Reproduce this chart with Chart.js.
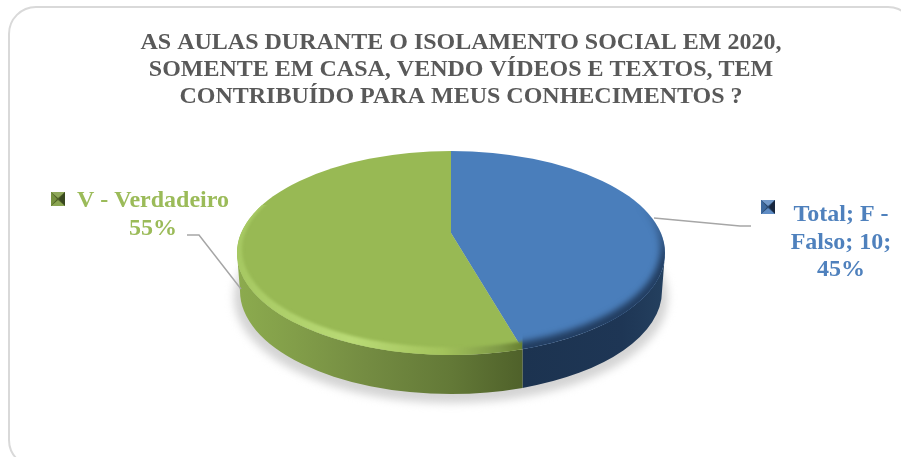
<!DOCTYPE html>
<html lang="pt">
<head>
<meta charset="utf-8">
<title>Aulas durante o isolamento social</title>
<script src="https://cdn.jsdelivr.net/npm/chart.js@4/dist/chart.umd.min.js"></script>
<style>
    html, body { margin: 0; padding: 0; background: #fff; overflow: hidden; width: 901px; height: 457px; }
    #frame {
        position: absolute; left: 8px; top: 6px; width: 904px; height: 458px;
        border: 2px solid #d9d9d9; border-radius: 28px; box-sizing: content-box;
    }
    #chartBox { position: absolute; left: 0; top: 0; width: 901px; height: 457px; }
</style>
</head>
<body>
<div id="frame"></div>
<div id="chartBox"><canvas id="pieChart" width="901" height="457"></canvas></div>

<script>
    const titleLines = [
        'AS AULAS DURANTE O ISOLAMENTO SOCIAL EM 2020,',
        'SOMENTE EM CASA, VENDO VÍDEOS E TEXTOS, TEM',
        'CONTRIBUÍDO PARA MEUS CONHECIMENTOS ?',
    ];
    const categories = ['F - Falso', 'V - Verdadeiro'];
    const answers = [10, 12];
    const faceColors = ['#4a7ebb', '#98b954'];
    const labelColors = ['#4f81bd', '#9bbb59'];

    // ── Pie geometry ────────────────────────────────────────────
    const SERIF = '"Liberation Serif", "Times New Roman", serif';
    const rim   = { x: 451, y: 253, rx: 214, ry: 102 };
    const face  = { x: 451, y: 249.5, rx: 209, ry: 98 };
    const floor = { x: 451, y: 291, rx: 211, ry: 103 };
    const apex  = { x: 451, y: 233 };
    const squash = rim.ry / rim.rx;
    const PIE_RADIUS = 100;
    const PIE_ZOOM = 4;

    function percent(i) {
        const total = answers.reduce((a, b) => a + b, 0);
        return Math.round(answers[i] / total * 100);
    }

    function ellipsePath(ctx, e) {
        ctx.beginPath();
        ctx.ellipse(e.x, e.y, e.rx, e.ry, 0, 0, Math.PI * 2);
    }

    // where the slice edge leaving the apex meets the rim
    function rimHit(angle) {
        const dx = Math.cos(angle), dy = Math.sin(angle) * squash;
        const ox = (apex.x - rim.x) / rim.rx, oy = (apex.y - rim.y) / rim.ry;
        const px = dx / rim.rx, py = dy / rim.ry;
        const a = px * px + py * py;
        const b = 2 * (ox * px + oy * py);
        const c = ox * ox + oy * oy - 1;
        const t = (-b + Math.sqrt(b * b - 4 * a * c)) / (2 * a);
        return apex.x + t * dx;
    }

    function wallPath(ctx, fromX, toX) {
        const t = (e, x) => Math.acos((x - e.x) / e.rx);
        ctx.beginPath();
        ctx.ellipse(rim.x, rim.y, rim.rx, rim.ry, 0, t(rim, fromX), t(rim, toX), false);
        ctx.ellipse(floor.x, floor.y, floor.rx, floor.ry, 0, t(floor, Math.max(toX, floor.x - floor.rx)) , t(floor, Math.min(fromX, floor.x + floor.rx)), true);
        ctx.closePath();
    }

    function hGradient(ctx, x0, x1, stops) {
        const g = ctx.createLinearGradient(x0, 0, x1, 0);
        stops.forEach(s => g.addColorStop(s[0], s[1]));
        return g;
    }

    // ── Solid look: shadow, side wall and bevel around the library's arcs ──
    const solidPie = {
        id: 'solidPie',
        beforeDatasetsDraw(chart) {
            const ctx = chart.ctx;
            const arcs = chart.getDatasetMeta(0).data;
            const splitX = rimHit(arcs[0].endAngle);
            chart.$splitX = splitX;

            ctx.save();
            ctx.filter = 'blur(4px)';
            ctx.fillStyle = '#d4d4d4';
            ellipsePath(ctx, { x: 451, y: 297, rx: 217, ry: 106 });
            ctx.fill();
            ctx.restore();

            ctx.save();
            wallPath(ctx, rim.x + rim.rx, splitX);
            ctx.fillStyle = hGradient(ctx, splitX, rim.x + rim.rx, [[0, '#1c3350'], [0.7, '#1e3655'], [1, '#24405f']]);
            ctx.fill();
            wallPath(ctx, splitX, rim.x - rim.rx);
            ctx.fillStyle = hGradient(ctx, rim.x - rim.rx, splitX, [
                [0, '#8cab4e'], [0.2, '#829e49'], [0.45, '#748c42'], [0.75, '#637937'], [1, '#4f612a'],
            ]);
            ctx.fill();
            ctx.restore();

            // arcs are drawn squashed around the apex and trimmed to the rim
            ctx.save();
            ellipsePath(ctx, rim);
            ctx.clip();
            const el = arcs[0];
            const k = PIE_ZOOM;
            ctx.transform(k, 0, 0, k * squash, apex.x - k * el.x, apex.y - k * squash * el.y);
        },
        afterDatasetsDraw(chart) {
            const ctx = chart.ctx;
            const splitX = chart.$splitX;
            ctx.restore();

            const crescent = (left, right, fill, blur) => {
                ctx.save();
                ellipsePath(ctx, rim);
                ctx.clip();
                ctx.beginPath();
                ctx.rect(left, 205, right - left, 200);
                ctx.clip();
                ctx.filter = `blur(${blur}px)`;
                ctx.beginPath();
                ctx.ellipse(rim.x, rim.y, rim.rx + 6, rim.ry + 6, 0, 0, Math.PI * 2);
                ctx.ellipse(face.x, face.y, face.rx, face.ry, 0, 0, Math.PI * 2, true);
                ctx.fillStyle = fill;
                ctx.fill('evenodd');
                ctx.restore();
            };
            crescent(rim.x - rim.rx - 2, splitX, hGradient(ctx, rim.x - rim.rx, splitX, [
                [0, '#a6c862'], [0.4, '#b9da76'], [0.72, '#a3c35c'], [0.92, '#7f9a47'], [1, '#67802f'],
            ]), 1.5);

            const blueEdge = ctx.createLinearGradient(0, 205, 0, 262);
            blueEdge.addColorStop(0, 'rgba(34,61,96,0)');
            blueEdge.addColorStop(1, 'rgba(34,61,96,1)');
            crescent(splitX, rim.x + rim.rx + 2, blueEdge, 3);

            drawLeaders(ctx);
            drawLabels(ctx);
        },
    };

    function drawLeaders(ctx) {
        ctx.save();
        ctx.strokeStyle = '#a6a6a6';
        ctx.lineWidth = 1.5;
        ctx.beginPath();
        ctx.moveTo(187, 235); ctx.lineTo(199, 235); ctx.lineTo(241, 289);
        ctx.moveTo(654, 218); ctx.lineTo(740, 226); ctx.lineTo(751, 226);
        ctx.stroke();
        ctx.restore();
    }

    // little pyramid legend key next to each label
    function legendKey(ctx, x, y, size, shades) {
        const m = size / 2;
        const quads = [
            [[0, 0], [size, 0], [m, m - 1]],
            [[size, 0], [size, size], [m + 1, m]],
            [[size, size], [0, size], [m, m + 1]],
            [[0, size], [0, 0], [m - 1, m]],
        ];
        ctx.fillStyle = shades[4];
        ctx.fillRect(x, y, size, size);
        quads.forEach((q, n) => {
            ctx.fillStyle = shades[n];
            ctx.beginPath();
            q.forEach((p, j) => j ? ctx.lineTo(x + p[0], y + p[1]) : ctx.moveTo(x + p[0], y + p[1]));
            ctx.closePath();
            ctx.fill();
        });
    }

    function drawLabels(ctx) {
        ctx.save();
        ctx.font = 'bold 24px ' + SERIF;
        ctx.textAlign = 'center';
        ctx.textBaseline = 'alphabetic';

        ctx.fillStyle = labelColors[1];
        ctx.fillText(categories[1], 153, 207);
        ctx.fillText(percent(1) + '%', 153, 235);

        ctx.fillStyle = labelColors[0];
        ctx.fillText('Total; F -', 841, 221);
        ctx.fillText('Falso; ' + answers[0] + ';', 841, 249);
        ctx.fillText(percent(0) + '%', 841, 276);

        legendKey(ctx, 51, 192, 14, ['#8fa85a', '#39481f', '#8aa551', '#76913f', '#4f6127']);
        legendKey(ctx, 761, 200, 14, ['#7198c8', '#17263d', '#5f8cc4', '#3d699e', '#2b4a70']);
        ctx.restore();
    }

    // nudge the title block off the canvas centre, above the slices
    const titleShift = {
        id: 'titleShift',
        afterLayout(chart) {
            chart.titleBlock.left += 10.5;
            chart.titleBlock.right += 10.5;
        },
    };

    new Chart(document.getElementById('pieChart'), {
        type: 'pie',
        data: {
            labels: categories,
            datasets: [{
                data: answers,
                backgroundColor: faceColors,
                borderWidth: 0,
                radius: PIE_RADIUS,
                clip: false,
            }],
        },
        options: {
            responsive: false,
            animation: false,
            rotation: 0,
            events: [],
            plugins: {
                legend: { display: false },
                tooltip: { enabled: false },
                title: {
                    display: true,
                    text: titleLines,
                    color: '#595959',
                    font: { family: SERIF, size: 24, weight: 'bold', lineHeight: 1.105 },
                    padding: { top: 30, bottom: 10 },
                },
            },
        },
        plugins: [titleShift, solidPie],
    });
</script>
</body>
</html>
